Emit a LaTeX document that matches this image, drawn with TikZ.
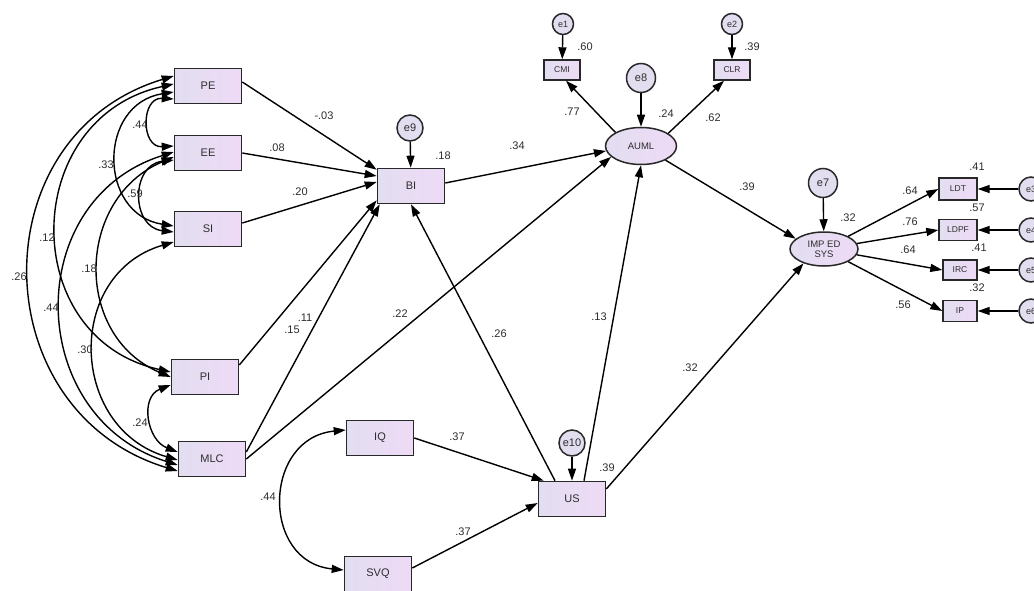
\documentclass[tikz,border=0pt]{standalone}
\usepackage{fontspec}
\setmainfont{Liberation Sans}
\usetikzlibrary{arrows.meta,shapes.geometric}
\definecolor{boxL}{RGB}{226,222,240}
\definecolor{boxR}{RGB}{238,218,246}
\definecolor{ink}{RGB}{40,40,40}
\definecolor{txt}{RGB}{45,45,45}
\begin{document}
\begin{tikzpicture}[x=1pt,y=-1pt,
  obs/.style={draw=ink, line width=1.6pt, left color=boxL, right color=boxR, minimum width=67pt, minimum height=35pt, inner sep=0pt, font=\fontsize{11}{11}\selectfont, text=txt},
  sobs/.style={obs, minimum width=36pt, minimum height=20pt, font=\fontsize{8.5}{8.5}\selectfont, line width=1.4pt},
  lat/.style={ellipse, draw=ink, line width=1.5pt, left color=boxL, right color=boxR, inner sep=0pt, font=\fontsize{9.5}{10}\selectfont, text=txt, align=center},
  err/.style={circle, draw=ink, line width=1.5pt, fill=boxL, inner sep=0pt, minimum size=26pt, font=\fontsize{11}{11}\selectfont, text=txt},
  serr/.style={err, minimum size=21pt, font=\fontsize{9}{9}\selectfont},
  arr/.style={-{Triangle[length=12pt,width=8pt]}, line width=1.4pt},
  cov/.style={{Triangle[length=12pt,width=8pt]}-{Triangle[length=12pt,width=8pt]}, line width=1.4pt},
  lab/.style={font=\fontsize{11}{11}\selectfont, text=txt, inner sep=0pt}
]
\useasboundingbox (0,0) rectangle (1034,591);
\fill[white] (0,0) rectangle (1034,591);

% observed variables
\node[obs] (PE) at (208,86) {PE};
\node[obs] (EE) at (208,153) {EE};
\node[obs] (SI) at (208,229) {SI};
\node[obs] (PI) at (205,377) {PI};
\node[obs] (MLC) at (212,459) {MLC};
\node[obs] (BI) at (411,186) {BI};
\node[obs] (IQ) at (380,438) {IQ};
\node[obs] (SVQ) at (378,574) {SVQ};
\node[obs] (US) at (572,499) {US};
\node[sobs] (CMI) at (562,70) {CMI};
\node[sobs] (CLR) at (732,70) {CLR};
\node[sobs, minimum width=38pt, minimum height=22pt] (LDT) at (958,189) {LDT};
\node[sobs, minimum width=38pt, minimum height=21pt] (LDPF) at (958,230) {LDPF};
\node[sobs, minimum width=34pt] (IRC) at (960,270) {IRC};
\node[sobs, minimum width=34pt, minimum height=21pt] (IP) at (960,311) {IP};

% latent variables
\node[lat, minimum width=71pt, minimum height=37pt] (AUML) at (641,146) {AUML};
\node[lat, minimum width=68pt, minimum height=34pt] (IMP) at (824,249) {IMP ED\\SYS};

% errors
\node[err] (e9) at (410,128) {e9};
\node[err, minimum size=29pt] (e8) at (641,78) {e8};
\node[err, minimum size=29pt] (e7) at (823,183) {e7};
\node[err] (e10) at (572,443) {e10};
\node[serr] (e1) at (563,24) {e1};
\node[serr] (e2) at (732,24) {e2};
\node[serr, minimum size=24pt] (e3) at (1031,189) {e3};
\node[serr, minimum size=24pt] (e4) at (1031,230) {e4};
\node[serr, minimum size=24pt] (e5) at (1031,270) {e5};
\node[serr, minimum size=24pt] (e6) at (1031,311) {e6};

% regression paths
\draw[arr] ([yshift=4pt]PE.east) -- ([yshift=-2pt]BI.north west);
\draw[arr] (EE.east) -- ([yshift=10pt]BI.west);
\draw[arr] ([yshift=6pt]SI.east) -- ([yshift=4pt]BI.west);
\draw[arr] ([yshift=12pt]PI.east) -- ([yshift=4pt]BI.south west);
\draw[arr] ([yshift=7pt]MLC.east) -- ([xshift=3pt]BI.south west);
\draw[arr] (MLC.east) -- (AUML.200);
\draw[arr] ([yshift=3pt]BI.east) -- (AUML.188);
\draw[arr] ([xshift=-17pt]US.north) -- (BI.south);
\draw[arr] ([xshift=12pt]US.north) -- (AUML.south);
\draw[arr] ([yshift=10pt]US.east) -- (IMP.215);
\draw[arr] (AUML.152) -- ([xshift=4pt]CMI.south);
\draw[arr] (AUML.25) -- ([xshift=-8pt]CLR.south);
\draw[arr] (AUML.330) -- (IMP.160);
\draw[arr] (IQ.east) -- ([xshift=6pt]US.north west);
\draw[arr] ([yshift=6pt]SVQ.east) -- ([yshift=-4pt]US.west);
\draw[arr] (IMP) -- (LDT.west);
\draw[arr] (IMP) -- (LDPF.west);
\draw[arr] (IMP) -- (IRC.west);
\draw[arr] (IMP) -- (IP.west);

% error paths
\draw[arr] (e9) -- (BI);
\draw[arr] (e8) -- (AUML);
\draw[arr] (e7) -- (IMP);
\draw[arr] (e10) -- (US);
\draw[arr] (e1) -- (CMI);
\draw[arr] (e2) -- (CLR);
\draw[arr] (e3) -- (LDT);
\draw[arr] (e4) -- (LDPF);
\draw[arr] (e5) -- (IRC);
\draw[arr] (e6) -- (IP);

% covariances
\draw[cov] ([yshift=10pt]PE.west) .. controls +(-195,59) and +(-195,-59) .. ([yshift=-12pt]MLC.west);
\draw[cov] ([yshift=2pt]PE.west) .. controls +(-154,34) and +(-154,-34) .. ([yshift=5pt]PI.west);
\draw[cov] ([yshift=1pt]EE.west) .. controls +(-153,48) and +(-153,-48) .. ([yshift=-6pt]MLC.west);
\draw[cov] ([yshift=-4pt]EE.west) .. controls +(-98,41) and +(-98,-41) .. (PI.west);
\draw[cov] ([yshift=-13pt]SI.west) .. controls +(-109,32) and +(-109,-32) .. ([yshift=-1pt]MLC.west);
\draw[cov] ([yshift=-6pt]PE.west) .. controls +(-76,12) and +(-76,-12) .. ([yshift=3pt]SI.west);
\draw[cov] ([yshift=-13pt]PE.west) .. controls +(-33,-2) and +(-33,2) .. ([yshift=7pt]EE.west);
\draw[cov] ([yshift=-7pt]EE.west) .. controls +(-43,5) and +(-43,-5) .. ([yshift=-3pt]SI.west);
\draw[cov] ([yshift=-8pt]PI.west) .. controls +(-31,12) and +(-31,-12) .. ([yshift=7pt]MLC.west);
\draw[cov] ([yshift=8pt]IQ.west) .. controls +(-83,8) and +(-83,-8) .. ([yshift=4pt]SVQ.west);

% coefficient labels
\node[lab] (c1) at (324,116) {-.03};
\node[lab] (c2) at (277,148) {.08};
\node[lab] (c3) at (300,192) {.20};
\node[lab] (c4) at (292,330) {.15};
\node[lab] (c5) at (305,318) {.11};
\node[lab] (c6) at (400,314) {.22};
\node[lab] (c7) at (499,334) {.26};
\node[lab] (c8) at (599,317) {.13};
\node[lab] (c9) at (690,368) {.32};
\node[lab] (c10) at (517,146) {.34};
\node[lab] (c11) at (572,112) {.77};
\node[lab] (c12) at (713,118) {.62};
\node[lab] (c13) at (747,187) {.39};
\node[lab] (c14) at (457,437) {.37};
\node[lab] (c15) at (463,532) {.37};
\node[lab] (c16) at (910,191) {.64};
\node[lab] (c17) at (910,222) {.76};
\node[lab] (c18) at (908,250) {.64};
\node[lab] (c19) at (903,305) {.56};
% squared multiple correlations
\node[lab] (r1) at (443,156) {.18};
\node[lab] (r2) at (666,114) {.24};
\node[lab] (r3) at (585,47) {.60};
\node[lab] (r4) at (752,47) {.39};
\node[lab] (r5) at (848,218) {.32};
\node[lab] (r6) at (607,468) {.39};
\node[lab] (r7) at (977,167) {.41};
\node[lab] (r8) at (977,208) {.57};
\node[lab] (r9) at (979,248) {.41};
\node[lab] (r10) at (977,288) {.32};
% covariance labels
\node[lab] (k1) at (140,125) {.44};
\node[lab] (k2) at (106,165) {.33};
\node[lab] (k3) at (135,194) {.59};
\node[lab] (k4) at (47,238) {.12};
\node[lab] (k5) at (19,277) {.26};
\node[lab] (k6) at (89,269) {.18};
\node[lab] (k7) at (51,308) {.44};
\node[lab] (k8) at (85,350) {.30};
\node[lab] (k9) at (140,423) {.24};
\node[lab] (k10) at (268,497) {.44};
\end{tikzpicture}
\end{document}
